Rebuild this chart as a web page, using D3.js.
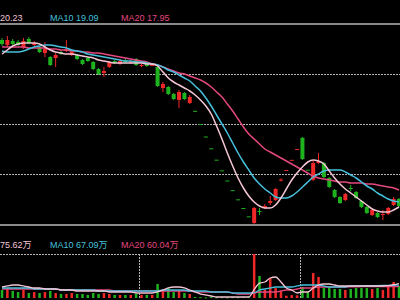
<!DOCTYPE html>
<html>
<head>
<meta charset="utf-8">
<script src="https://cdn.jsdelivr.net/npm/d3@7"></script>
<style>
  html, body { margin: 0; padding: 0; background: #000; overflow: hidden; }
</style>
</head>
<body>
<div id="chart"></div>
<script>
// daily bars, oldest first (price in yuan)
const open  = [20.04,19.74,19.98,19.92,19.62,20.10,19.74,19.62,19.26,19.02,18.96,19.32,19.38,19.14,19.14,18.84,18.96,18.72,18.30,18.06,
               18.42,18.78,18.60,18.84,18.66,18.90,18.48,18.60,18.48,18.42,17.16,17.22,16.80,16.44,16.86,16.26,
               15.79,15.00,14.25,13.54,12.86,12.22,11.61,11.03,10.48,9.96,9.46,
               9.06,9.78,9.96,10.26,10.44,11.60,12.24,12.85,13.50,14.17,12.26,11.65,12.66,12.66,11.76,11.04,10.62,10.44,11.16,
               10.92,10.38,10.02,9.54,9.66,9.54,9.60,10.14,10.50];
const close = [19.80,20.04,19.80,19.74,19.98,19.86,19.86,19.32,19.50,18.54,19.14,19.20,19.50,19.32,18.90,18.60,18.78,18.30,18.00,18.18,
               18.72,18.66,18.78,18.72,18.78,18.54,18.54,18.48,18.60,17.28,17.40,16.80,16.50,16.92,16.50,16.62,
               15.79,15.00,14.25,13.54,12.86,12.22,11.61,11.03,10.48,9.96,9.46,
               9.96,9.72,10.08,10.38,11.10,11.66,12.24,12.85,13.50,12.90,12.26,12.66,12.78,11.82,11.22,10.62,10.26,10.80,11.10,
               10.56,10.02,9.66,9.84,9.42,9.60,9.96,10.50,10.08];
const high  = [20.16,20.28,20.10,20.04,20.16,20.22,19.98,19.68,19.92,19.08,19.26,19.38,20.04,19.44,19.20,18.90,19.02,18.78,18.36,18.42,
               18.78,18.84,18.90,18.96,18.84,18.96,18.60,18.66,18.66,18.48,17.52,17.28,16.86,17.04,16.92,16.74,
               15.79,15.00,14.25,13.54,12.86,12.22,11.61,11.03,10.48,9.96,9.46,
               10.02,9.96,10.20,10.68,11.16,11.75,12.24,12.85,13.50,14.22,12.26,12.84,13.26,12.72,11.82,11.10,10.68,10.86,11.34,
               10.98,10.44,10.08,9.90,9.72,9.84,10.02,10.62,10.56];
const low   = [19.68,19.62,19.74,19.68,19.50,19.80,19.68,19.26,19.02,18.48,18.42,19.14,19.32,19.08,18.84,18.54,18.72,18.24,17.94,17.82,
               18.36,18.60,18.54,18.66,18.60,18.48,18.42,18.42,18.48,17.22,16.92,16.74,16.44,15.96,16.44,16.20,
               15.79,15.00,14.25,13.54,12.86,12.22,11.61,11.03,10.48,9.96,9.46,
               9.00,9.54,9.90,10.14,10.38,11.55,12.24,12.85,13.50,12.84,12.26,11.58,12.60,11.76,11.16,10.56,10.20,10.38,10.98,
               10.50,9.96,9.60,9.48,9.36,9.24,9.54,10.08,10.02];

// moving averages of price as drawn
const ma5  = [19.20,19.44,19.68,19.80,19.86,19.86,19.86,19.80,19.62,19.44,19.32,19.26,19.20,19.20,19.14,19.08,19.02,18.96,18.84,18.78,
              18.72,18.66,18.66,18.66,18.66,18.66,18.66,18.60,18.60,18.48,18.12,17.76,17.52,17.34,17.16,16.98,16.74,16.44,16.08,15.60,
              14.88,14.10,13.26,12.48,11.76,11.16,10.68,10.32,10.08,9.96,9.96,10.14,10.56,11.10,11.64,12.06,12.42,12.72,12.84,12.78,
              12.60,12.18,11.76,11.40,11.10,10.86,10.62,10.38,10.14,9.90,9.78,9.72,9.72,9.84,10.02];
const ma10 = [19.38,19.32,19.32,19.32,19.38,19.50,19.62,19.68,19.74,19.74,19.68,19.62,19.56,19.44,19.38,19.32,19.20,19.14,19.08,19.02,
              18.96,18.90,18.84,18.78,18.78,18.72,18.72,18.66,18.60,18.54,18.42,18.24,18.12,17.94,17.76,17.58,17.28,16.98,16.56,16.08,
              15.54,15.00,14.46,13.86,13.26,12.72,12.24,11.76,11.40,11.10,10.86,10.62,10.56,10.56,10.68,10.92,11.22,11.52,11.82,12.00,
              12.18,12.24,12.24,12.24,12.12,11.94,11.76,11.52,11.28,11.10,10.86,10.68,10.50,10.38,10.32];
const ma20 = [19.62,19.62,19.62,19.62,19.62,19.56,19.56,19.56,19.56,19.50,19.50,19.44,19.44,19.38,19.38,19.32,19.32,19.26,19.26,19.20,
              19.14,19.08,19.02,18.96,18.90,18.84,18.78,18.72,18.60,18.54,18.42,18.30,18.18,18.06,18.00,17.88,17.76,17.64,17.46,17.22,
              16.92,16.62,16.20,15.78,15.30,14.82,14.40,14.10,13.80,13.50,13.32,13.14,12.96,12.78,12.60,12.42,12.24,12.06,11.88,11.76,
              11.70,11.64,11.58,11.52,11.52,11.46,11.46,11.46,11.40,11.40,11.34,11.28,11.22,11.16,11.04];

// volume, in 万 shares
const volume = [42,47,37,31,42,26,31,26,31,37,26,21,21,26,21,21,16,26,21,26,
                21,16,16,16,16,21,16,16,16,73,42,52,31,37,26,21,
                5.4,4.1,3.2,4.8,3.6,4.4,3.0,4.6,3.8,5.1,6.0,
                230,115,42,105,52,37,12,15,14,58,31,131,110,52,52,47,47,42,47,
                52,52,52,47,52,42,68,84,63];
const vma5  = [57.5,62.8,68,68,62.8,57.5,52.3,52.3,47.1,47.1,47.1,41.8,41.8,41.8,36.6,36.6,36.6,36.6,36.6,36.6,
               31.4,31.4,31.4,31.4,31.4,26.2,26.2,26.2,26.2,31.4,41.8,52.3,57.5,57.5,52.3,41.8,31.4,20.9,15.7,10.5,
               5.2,5.2,5.2,5.2,5.2,5.2,5.2,44,78,83.7,104.6,109.8,83.7,52.3,41.8,26.2,31.4,31.4,52.3,68,
               73.2,73.2,68,62.8,62.8,62.8,62.8,62.8,62.8,62.8,62.8,62.8,65,70,75.62];
const vma10 = [52.3,52.3,52.3,52.3,52.3,52.3,47.1,47.1,47.1,47.1,47.1,41.8,41.8,41.8,41.8,41.8,41.8,41.8,36.6,36.6,
               36.6,36.6,36.6,36.6,36.6,36.6,36.6,36.6,36.6,36.6,41.8,41.8,41.8,41.8,41.8,36.6,36.6,36.6,36.6,31.4,
               31.4,31.4,31.4,26.2,26.2,26.2,26.2,28,41.8,47.1,52.3,57.5,57.5,57.5,57.5,62.8,68,68,68,68,
               62.8,57.5,57.5,57.5,57.5,62.8,63,63.5,64,64.5,65,65.5,66,66.5,67.09];
const vma20 = [47.1,47.1,47.1,47.1,47.1,47.1,47.1,47.1,47.1,47.1,47.1,41.8,41.8,41.8,41.8,41.8,41.8,41.8,41.8,41.8,
               41.8,36.6,36.6,36.6,36.6,36.6,36.6,36.6,36.6,36.6,36.6,36.6,36.6,36.6,36.6,36.6,31.4,31.4,31.4,31.4,
               31.4,31.4,31.4,26.2,20.9,20.9,20.9,26.2,31.4,31.4,31.4,31.4,36.6,41.8,41.8,47.1,52.3,52.3,52.3,57.5,
               57.5,57.5,57.5,57.5,57.5,58,58.5,59,59,59.5,59.5,60,60,60,60.04];

const gridLevels = [12, 15, 18];
const monthBreaks = [26, 56];   // first bar of a new month
const priceLabels = [["MA5", "20.23"], ["MA10", "19.09"], ["MA20", "17.95"]];
const volLabels   = [["MA5", "75.62万"], ["MA10", "67.09万"], ["MA20", "60.04万"]];

const colors = { up: "#f02828", down: "#1fb21f", ma5: "#f4c6d6", ma10: "#46c0dc", ma20: "#e4487f", grid: "#b4b4b4", frame: "#8a8a8a" };
const maColors = [colors.ma5, colors.ma10, colors.ma20];
const labelX = [-21, 50, 121];

const width = 400, height = 300;

const svg = d3.select("#chart")
  .append("svg")
    .attr("width", width)
    .attr("height", height)
    .style("display", "block")
    .style("background", "#000");

const x = d3.scaleLinear().domain([0, open.length - 1]).range([2, 399]);
const y = d3.scaleLinear().domain([9, 21]).range([224, 24]);
const yv = d3.scaleLinear().domain([0, 230]).range([298, 254]);

const bars = open.map((o, i) => ({
  i: i, o: o, c: close[i], h: high[i], l: low[i], v: volume[i],
  up: close[i] > o || (close[i] === o && i > 0 && close[i] >= close[i - 1])
}));

// frame and grid of the price pane
svg.append("line")
  .attr("x1", 0).attr("x2", width)
  .attr("y1", y(21)).attr("y2", y(21))
  .attr("stroke", colors.frame).attr("stroke-width", 2);
svg.append("line")
  .attr("x1", 0).attr("x2", width)
  .attr("y1", y(9) + 1).attr("y2", y(9) + 1)
  .attr("stroke", colors.frame).attr("stroke-width", 2);

svg.selectAll(".grid")
  .data(gridLevels)
  .join("line")
    .attr("class", "grid")
    .attr("x1", 0).attr("x2", width)
    .attr("y1", d => Math.round(y(d)) + 0.5).attr("y2", d => Math.round(y(d)) + 0.5)
    .attr("stroke", colors.grid)
    .attr("stroke-dasharray", "2,1");

// volume pane grid
svg.append("line")
  .attr("x1", 0).attr("x2", width)
  .attr("y1", Math.round(yv(230)) + 0.5).attr("y2", Math.round(yv(230)) + 0.5)
  .attr("stroke", colors.grid)
  .attr("stroke-dasharray", "2,1");

svg.selectAll(".vbreak")
  .data(monthBreaks)
  .join("line")
    .attr("class", "vbreak")
    .attr("x1", d => Math.round(x(d) - 2) + 0.5).attr("x2", d => Math.round(x(d) - 2) + 0.5)
    .attr("y1", yv(230)).attr("y2", yv(0))
    .attr("stroke", colors.grid)
    .attr("stroke-dasharray", "2,1");

// candles
const candle = svg.append("g").selectAll("g")
  .data(bars)
  .join("g");

candle.append("line")
  .attr("x1", d => x(d.i)).attr("x2", d => x(d.i))
  .attr("y1", d => y(d.h)).attr("y2", d => y(d.l))
  .attr("stroke", d => d.up ? colors.up : colors.down)
  .attr("stroke-width", 1);

candle.append("rect")
  .attr("x", d => x(d.i) - 2)
  .attr("width", 4)
  .attr("y", d => y(Math.max(d.o, d.c)))
  .attr("height", d => Math.max(1, Math.abs(y(d.o) - y(d.c))))
  .attr("fill", d => d.up ? colors.up : colors.down);

// moving averages
const line = d3.line()
  .x((d, i) => x(i))
  .y(d => y(d))
  .curve(d3.curveMonotoneX);

svg.append("g").selectAll("path")
  .data([ma20, ma10, ma5])
  .join("path")
    .attr("d", line)
    .attr("fill", "none")
    .attr("stroke", (d, k) => [colors.ma20, colors.ma10, colors.ma5][k])
    .attr("stroke-width", 1.5);

// volume bars
svg.append("g").selectAll("rect")
  .data(bars)
  .join("rect")
    .attr("x", d => x(d.i) - 1.25)
    .attr("width", 2.5)
    .attr("y", d => yv(d.v))
    .attr("height", d => Math.max(1, yv(0) - yv(d.v)))
    .attr("fill", d => d.up ? colors.up : colors.down);

const vline = d3.line()
  .x((d, i) => x(i))
  .y(d => yv(d))
  .curve(d3.curveMonotoneX);

svg.append("g").selectAll("path")
  .data([vma20, vma10, vma5])
  .join("path")
    .attr("d", vline)
    .attr("fill", "none")
    .attr("stroke", (d, k) => [colors.ma20, colors.ma10, colors.ma5][k])
    .attr("stroke-width", 1.3);

// legends (the MA5 label runs off the left edge, as in the source screen)
function legend(labels, baseline) {
  svg.append("g").selectAll("text")
    .data(labels)
    .join("text")
      .attr("x", (d, k) => labelX[k])
      .attr("y", baseline)
      .attr("fill", (d, k) => maColors[k])
      .style("font-family", "'Liberation Sans', Arial, 'Noto Sans CJK SC', sans-serif")
      .style("font-size", "9px")
      .text(d => d[0] + " " + d[1]);
}
legend(priceLabels, 21);
legend(volLabels, 248);
</script>
</body>
</html>
